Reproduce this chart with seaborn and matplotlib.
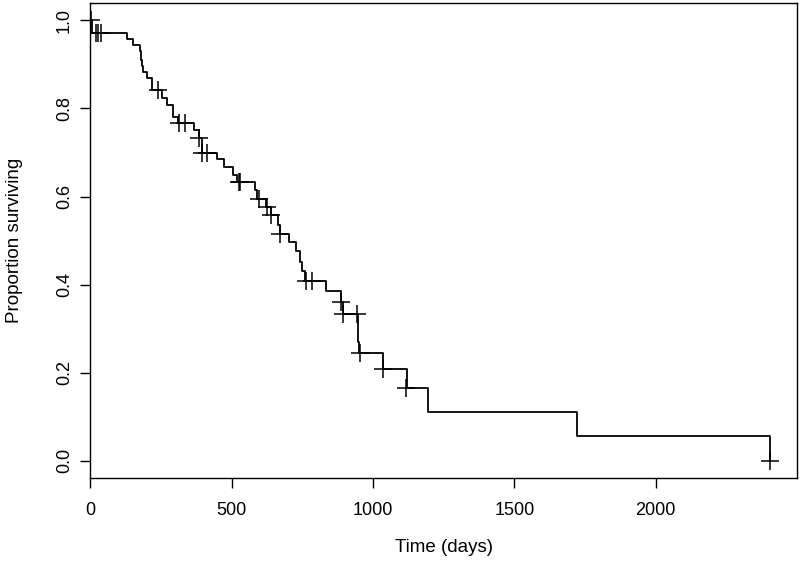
import pandas as pd
import seaborn as sns
import matplotlib.pyplot as plt

# step points of the Kaplan-Meier curve (time in days, proportion surviving after the step)
times = [0, 5, 130, 149, 177, 180, 183, 185, 200, 218, 255, 271, 291, 311, 365, 383, 395,
         448, 471, 505, 518, 583, 591, 621, 640, 665, 671, 704, 727, 742, 748, 760, 833,
         886, 895, 945, 947, 950, 1034, 1119, 1195, 1722, 2403]
surv = [1.0, 0.972, 0.958, 0.945, 0.93, 0.91, 0.897, 0.884, 0.869, 0.841, 0.824, 0.807,
        0.78, 0.766, 0.75, 0.734, 0.70, 0.686, 0.668, 0.65, 0.634, 0.615, 0.595, 0.577,
        0.558, 0.536, 0.515, 0.496, 0.477, 0.451, 0.43, 0.409, 0.386, 0.36, 0.333, 0.30,
        0.27, 0.244, 0.208, 0.165, 0.111, 0.055, 0.0]

# censoring marks
cens_t = [3, 19, 27, 37, 239, 315, 336, 383, 395, 412, 525, 530, 595, 625, 640, 671,
          763, 785, 886, 893, 942, 954, 1034, 1117, 2403]
cens_s = [1.0, 0.972, 0.972, 0.972, 0.841, 0.766, 0.766, 0.734, 0.70, 0.70, 0.634, 0.634,
          0.595, 0.577, 0.558, 0.515, 0.409, 0.409, 0.36, 0.333, 0.333, 0.244, 0.208,
          0.165, 0.0]

km = pd.DataFrame({'time': times, 'surv': surv})
cens = pd.DataFrame({'time': cens_t, 'surv': cens_s})

sns.set_style('white')
plt.rcParams['font.family'] = ['Liberation Sans', 'DejaVu Sans']
plt.rcParams['text.color'] = 'black'
plt.rcParams['axes.labelcolor'] = 'black'
plt.rcParams['xtick.color'] = 'black'
plt.rcParams['ytick.color'] = 'black'

fig = plt.figure(figsize=(8, 5.72), dpi=100)
ax = fig.add_axes([0.113, 0.164, 0.883, 0.831])

sns.lineplot(data=km, x='time', y='surv', drawstyle='steps-post', estimator=None,
             sort=False, color='black', linewidth=1.3, ax=ax)
sns.scatterplot(data=cens, x='time', y='surv', marker='+', s=150, color='black',
                linewidth=1.1, ax=ax, zorder=3)

ax.set_xlim(0, 2499)
ax.set_ylim(-0.04, 1.04)
ax.set_xticks([0, 500, 1000, 1500, 2000])
ax.set_yticks([0.0, 0.2, 0.4, 0.6, 0.8, 1.0])
ax.set_yticklabels(['0.0', '0.2', '0.4', '0.6', '0.8', '1.0'])
ax.tick_params(axis='both', direction='out', length=7.5, width=1, color='black',
               labelsize=13, bottom=True, left=True)
ax.tick_params(axis='x', pad=10)
ax.tick_params(axis='y', pad=5)
for lab in ax.get_yticklabels():
    lab.set_rotation(90)
    lab.set_va('center')

for sp in ax.spines.values():
    sp.set_color('black')
    sp.set_linewidth(1)

ax.set_xlabel('Time (days)', fontsize=13.5, labelpad=14)
ax.set_ylabel('Proportion surviving', fontsize=13.5, labelpad=24)

fig.savefig('out.png', dpi=100)
